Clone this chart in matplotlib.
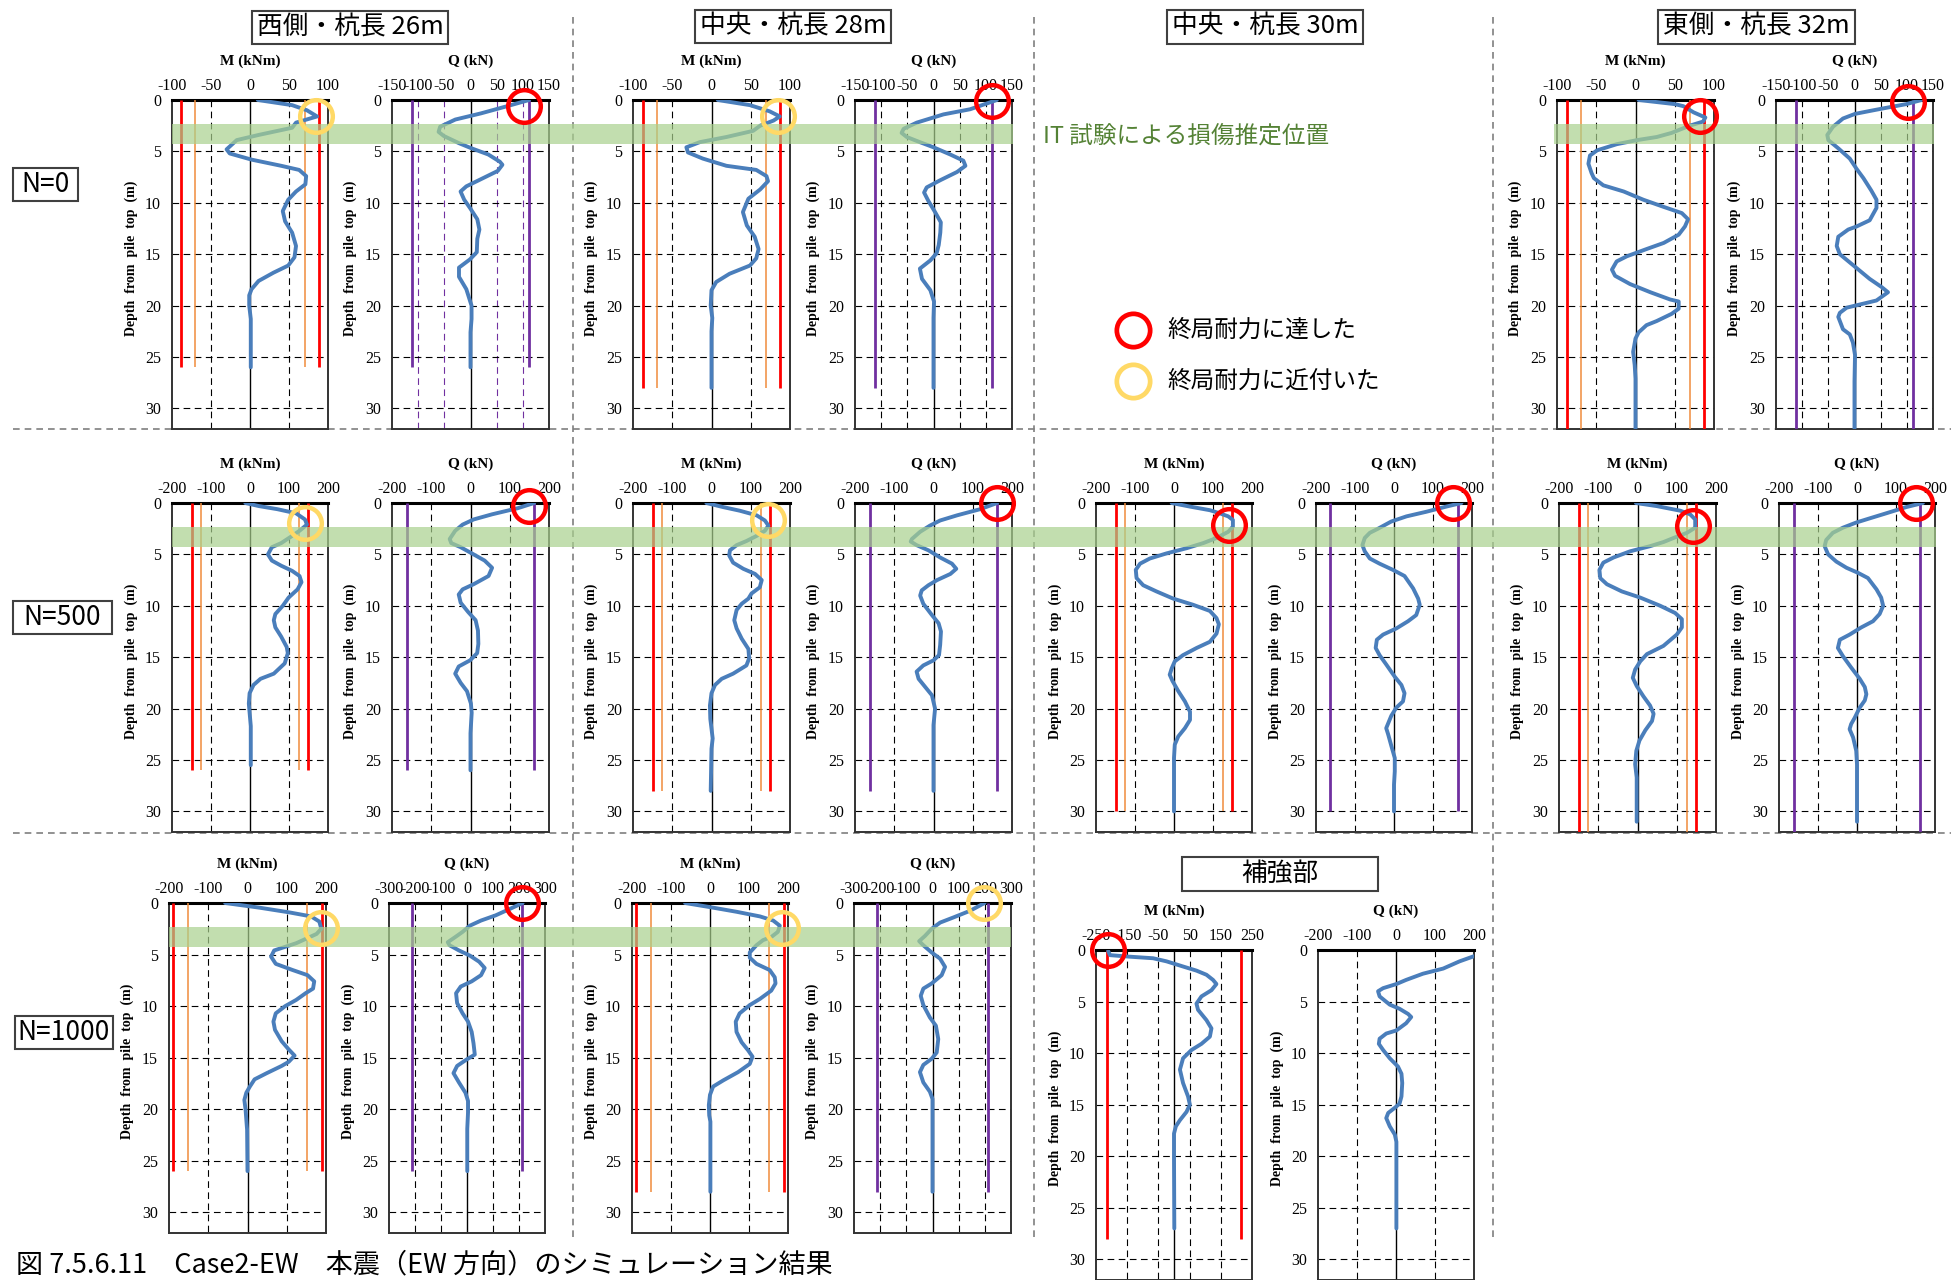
import matplotlib
matplotlib.use('Agg')
import matplotlib.pyplot as plt
from matplotlib.patches import Rectangle
from matplotlib.lines import Line2D
from matplotlib.transforms import blended_transform_factory

plt.rcParams['font.family'] = ['Liberation Serif', 'DejaVu Serif']
JP = ['Noto Sans CJK JP', 'DejaVu Sans']

# ---- data: depth (m) and value ----
# N=0
W0_M_D = [0, 0.5, 1.0, 1.6, 2.2, 2.7, 3.4, 3.9, 4.8, 5.2, 5.8, 6.4, 6.8, 7.4, 8.2, 8.9, 9.7, 10.8, 11.8, 12.9, 14.2, 15.3, 16.1, 16.8, 17.6, 18.4, 19.0, 20.0, 21.3, 22.6, 26.0]
W0_M_V = [10, 54, 73, 86, 59, 54, 11, -17, -30, -26, 2, 40, 63, 72, 71, 59, 49, 42, 45, 54, 59, 57, 49, 30, 11, 2, -1, -1, 1, 1, 1]
W0_Q_D = [0, 0.6, 1.3, 1.9, 2.6, 3.1, 3.5, 4.2, 4.7, 5.3, 6.0, 6.3, 6.9, 7.7, 8.4, 8.9, 9.7, 10.5, 11.6, 12.6, 13.5, 14.8, 15.5, 16.3, 17.2, 18.4, 20.0, 21.3, 22.6, 26.0]
W0_Q_V = [112, 70, 20, -29, -58, -61, -51, -22, 2, 34, 56, 61, 52, 20, -8, -19, -12, -1, 13, 17, 13, 12, -1, -22, -22, -8, 2, 2, 0, 0]

C0_M_D = [0, 0.5, 1.1, 1.6, 2.0, 2.5, 3.0, 3.6, 4.1, 4.6, 5.1, 5.7, 6.4, 6.8, 7.4, 7.9, 8.7, 9.6, 10.9, 12.2, 13.3, 14.5, 15.4, 16.1, 16.9, 17.7, 18.5, 20.0, 21.2, 22.5, 28.0]
C0_M_V = [8, 49, 74, 87, 79, 62, 53, 19, -15, -32, -30, -11, 19, 57, 70, 72, 62, 47, 40, 45, 55, 60, 57, 49, 23, 6, 0, -1, 1, 0, 0]
C0_Q_D = [0, 0.9, 1.4, 2.2, 2.8, 3.2, 3.6, 4.1, 4.6, 5.3, 5.9, 6.4, 7.0, 7.8, 8.5, 9.0, 9.8, 10.9, 11.9, 12.9, 14.1, 14.9, 15.6, 16.4, 17.4, 18.5, 19.6, 21.2, 28.0]
C0_Q_V = [121, 70, 19, -32, -57, -61, -51, -26, 0, 32, 57, 61, 45, 13, -13, -18, -10, 3, 14, 13, 10, 6, -6, -26, -22, -6, 1, 0, 0]

E0_M_D = [0, 0.4, 0.6, 1.2, 1.7, 2.1, 2.5, 3.2, 3.6, 3.9, 4.3, 4.9, 5.4, 6.2, 7.1, 7.6, 8.3, 8.9, 9.7, 10.4, 11.0, 11.6, 12.3, 13.1, 13.9, 14.5, 15.2, 15.7, 16.5, 17.1, 17.9, 18.7, 19.4, 19.6, 20.3, 20.8, 21.5, 21.9, 22.6, 23.2, 24.5, 25.8, 27.1, 32.0]
E0_M_V = [4, 50, 61, 74, 89, 86, 69, 46, 27, 2, -24, -49, -58, -60, -56, -53, -41, -15, 10, 36, 59, 67, 63, 55, 36, 14, -11, -24, -30, -26, -7, 19, 44, 55, 55, 46, 27, 14, 4, 0, -3, -1, 0, 0]
E0_Q_D = [0, 0.4, 0.7, 1.0, 1.35, 1.8, 2.6, 3.4, 3.9, 4.7, 5.7, 6.7, 7.6, 8.8, 9.7, 10.5, 11.7, 12.3, 12.6, 13.3, 14.2, 15.0, 15.8, 16.6, 17.4, 18.2, 18.7, 19.5, 20.2, 20.7, 21.1, 22.3, 22.8, 23.6, 24.8, 27.4, 32.0]
E0_Q_V = [128, 99, 67, 36, 1, -22, -41, -52, -50, -31, -9, 4, 17, 32, 42, 42, 29, 4, -12, -31, -34, -28, -9, 10, 29, 52, 64, 42, -15, -28, -31, -22, -9, -3, 1, 0, 0]

# N=500
W5_M_D = [0, 0.3, 0.6, 1.0, 1.6, 2.1, 2.7, 3.2, 3.9, 4.3, 5.0, 5.6, 6.1, 6.6, 7.1, 7.7, 8.4, 9.2, 10.0, 10.8, 11.4, 12.1, 13.0, 14.0, 14.6, 15.6, 16.6, 17.1, 17.7, 18.5, 19.5, 20.4, 21.7, 25.5]
W5_M_V = [-12, 23, 70, 118, 141, 146, 127, 108, 80, 56, 46, 56, 80, 108, 127, 132, 122, 99, 84, 65, 61, 65, 80, 94, 97, 89, 61, 27, 9, -1, -3, -1, 2, 2]
W5_Q_D = [0, 0.5, 1.1, 1.6, 2.1, 2.7, 3.5, 3.9, 4.3, 5.0, 5.6, 6.3, 7.1, 7.9, 8.4, 8.9, 9.7, 10.6, 11.4, 12.4, 13.7, 14.6, 15.3, 15.9, 16.6, 17.5, 18.3, 19.5, 20.4, 22.4, 26.0]
W5_Q_V = [162, 121, 55, 8, -20, -39, -53, -49, -25, 8, 36, 55, 46, 8, -20, -30, -25, -6, 13, 19, 20, 17, -1, -30, -39, -25, -9, 1, 3, 0, 0]

C5_M_D = [0, 0.4, 0.75, 1.2, 1.7, 2.2, 2.7, 3.2, 3.7, 4.1, 4.6, 5.1, 5.8, 6.4, 6.9, 7.5, 8.2, 8.8, 9.3, 9.8, 10.4, 11.4, 12.2, 13.2, 14.2, 15.1, 15.8, 16.6, 17.1, 17.7, 18.5, 19.7, 21.0, 22.9, 23.9, 28.0]
C5_M_V = [-13, 30, 72, 115, 136, 145, 136, 115, 89, 64, 47, 45, 55, 81, 111, 128, 123, 102, 94, 77, 64, 58, 64, 77, 94, 96, 89, 55, 26, 9, 0, -4, -3, 3, 0, -2]
C5_Q_D = [0, 0.6, 1.2, 1.7, 2.2, 2.8, 3.5, 3.75, 4.1, 4.6, 5.3, 5.9, 6.4, 6.9, 7.5, 8.0, 8.5, 9.0, 9.8, 10.9, 11.7, 12.5, 13.8, 14.8, 15.3, 15.8, 16.4, 17.1, 17.9, 18.7, 20.0, 21.6, 28.0]
C5_Q_V = [162, 119, 60, 17, -9, -34, -55, -58, -43, -13, 17, 47, 58, 43, 9, -13, -30, -34, -26, -4, 13, 19, 17, 14, 0, -26, -43, -38, -21, -4, 4, 0, 0]

M5_M_D = [0, 0.35, 0.7, 1.0, 1.3, 1.65, 2.3, 2.8, 3.4, 3.9, 4.4, 4.9, 5.4, 5.9, 6.5, 7.3, 8.0, 8.6, 9.3, 9.9, 10.5, 11.2, 11.8, 12.7, 13.5, 14.1, 14.8, 15.4, 16.1, 16.7, 17.3, 18.3, 19.3, 20.3, 21.1, 21.9, 22.7, 23.5, 24.8, 30.0]
M5_M_V = [-6, 41, 92, 117, 139, 151, 151, 139, 109, 75, 32, -19, -62, -87, -98, -96, -79, -45, -2, 49, 92, 109, 115, 109, 92, 58, 23, 2, -6, -11, -4, 11, 28, 41, 41, 28, 11, 2, 0, 0]
M5_Q_D = [0, 0.35, 0.85, 1.3, 1.8, 2.5, 2.9, 3.4, 4.1, 4.7, 5.4, 5.9, 6.5, 7.1, 8.3, 9.3, 9.9, 10.9, 11.5, 12.2, 12.8, 13.3, 14.1, 14.8, 15.7, 16.9, 17.7, 18.5, 19.3, 19.9, 20.7, 21.9, 22.5, 23.6, 24.8, 26.1, 27.4, 30.0]
M5_Q_V = [173, 134, 83, 32, -7, -41, -62, -75, -81, -75, -62, -37, -3, 27, 49, 62, 66, 57, 36, 6, -28, -44, -47, -37, -20, 2, 19, 27, 23, 6, -7, -20, -15, -7, 2, 2, 0, 0]

E5_M_D = [0, 0.3, 0.75, 1.1, 1.6, 2.4, 2.9, 3.4, 3.8, 4.2, 4.7, 5.3, 5.8, 6.5, 7.3, 7.9, 8.6, 9.2, 10.0, 10.7, 11.3, 12.1, 12.8, 13.9, 14.7, 15.4, 16.2, 17.0, 17.8, 18.8, 19.7, 20.5, 21.2, 22.1, 23.1, 24.1, 25.4, 26.7, 31.0]
E5_M_V = [-4, 49, 109, 134, 147, 147, 126, 92, 66, 32, -19, -61, -87, -97, -95, -78, -40, 7, 58, 96, 113, 113, 100, 66, 24, 7, -6, -12, -2, 15, 32, 41, 37, 20, 5, -3, -6, -2, -2]
E5_Q_D = [0, 0.4, 1.0, 1.5, 1.9, 2.4, 2.9, 3.6, 4.2, 5.0, 5.7, 6.3, 6.8, 7.3, 8.4, 9.2, 10.0, 10.8, 11.5, 12.1, 12.8, 13.3, 14.1, 14.9, 16.0, 17.1, 17.9, 18.6, 19.2, 19.9, 20.9, 21.5, 22.0, 22.8, 24.1, 25.4, 31.0]
E5_Q_V = [169, 126, 75, 32, -2, -36, -62, -79, -83, -74, -53, -27, 3, 28, 50, 62, 67, 58, 41, 11, -19, -44, -49, -36, -15, 7, 20, 24, 20, 7, -6, -15, -19, -10, -2, 0, 0]

# N=1000
W10_M_D = [0, 0.45, 0.9, 1.3, 1.8, 2.5, 3.0, 3.4, 3.9, 4.25, 4.6, 5.2, 5.9, 6.5, 7.0, 7.6, 8.3, 8.75, 9.4, 10.0, 10.7, 11.5, 12.3, 13.4, 14.2, 14.8, 15.4, 15.8, 16.5, 17.1, 17.8, 18.4, 19.1, 20.0, 22.0, 26.0]
W10_M_V = [-57, 30, 105, 162, 183, 188, 176, 153, 124, 96, 68, 60, 72, 115, 153, 170, 167, 148, 124, 96, 72, 66, 70, 87, 105, 120, 105, 87, 49, 18, 6, -3, -8, -5, -1, 0]
W10_Q_D = [0, 0.55, 1.2, 1.7, 2.2, 2.8, 3.3, 3.8, 4.1, 4.6, 5.1, 5.7, 6.3, 7.0, 7.6, 8.1, 8.75, 9.7, 10.7, 11.5, 12.5, 13.6, 14.7, 15.2, 15.8, 16.5, 17.4, 18.4, 19.2, 20.3, 21.9, 26.0]
W10_Q_V = [214, 167, 110, 54, 11, -17, -45, -74, -67, -31, 11, 47, 68, 54, 18, -24, -42, -38, -17, 4, 18, 25, 30, -3, -38, -52, -31, -6, 4, 4, 1, 1]

C10_M_D = [0, 0.4, 0.85, 1.3, 1.7, 2.2, 2.8, 3.3, 3.6, 4.1, 4.8, 5.3, 5.9, 6.5, 7.2, 7.8, 8.5, 9.3, 9.9, 10.7, 11.5, 12.5, 13.5, 14.3, 14.9, 15.6, 16.4, 17.2, 17.8, 18.6, 19.6, 20.6, 21.2, 28.0]
C10_M_V = [-64, 0, 68, 128, 162, 179, 174, 157, 136, 119, 102, 102, 119, 153, 166, 168, 157, 128, 102, 76, 66, 68, 81, 98, 109, 102, 72, 34, 8, 0, -3, -2, 1, 1]
C10_Q_D = [0, 0.75, 1.4, 1.9, 2.5, 3.2, 3.7, 4.1, 4.8, 5.4, 6.2, 7.0, 7.8, 8.3, 9.0, 9.9, 11.1, 11.9, 13.2, 14.5, 15.1, 15.7, 16.4, 17.4, 18.3, 19.0, 20.3, 28.0]
C10_Q_V = [199, 144, 80, 29, -3, -29, -51, -35, -3, 29, 48, 35, -3, -35, -45, -35, -10, 13, 22, 16, -3, -35, -48, -35, -10, 0, 0, 0]

# 補強部
R_M_D = [0.1, 0.5, 0.65, 0.8, 1.1, 1.6, 2.0, 2.4, 2.9, 3.3, 3.9, 4.5, 5.2, 5.8, 6.8, 7.6, 8.4, 9.1, 9.7, 10.5, 11.6, 12.9, 14.2, 15.0, 15.7, 16.5, 17.1, 17.8, 20.0, 27.0]
R_M_V = [-211, -205, -141, -67, -24, 29, 72, 104, 125, 136, 120, 88, 72, 77, 104, 120, 115, 88, 56, 29, 19, 29, 45, 51, 40, 19, 6, 0, 0, 1]
R_Q_D = [0.6, 1.1, 1.8, 2.3, 2.9, 3.3, 3.7, 4.0, 4.5, 5.3, 5.7, 6.2, 6.5, 7.1, 7.8, 8.1, 8.6, 9.1, 9.7, 10.5, 11.3, 12.0, 12.9, 14.2, 14.9, 15.3, 15.8, 16.3, 17.1, 17.9, 18.6, 20.0, 27.0]
R_Q_V = [200, 163, 121, 69, 26, 1, -33, -46, -42, -16, 9, 31, 39, 26, 1, -25, -42, -44, -33, -16, 5, 14, 16, 14, 9, -3, -20, -25, -16, -3, 1, 1, 1]

# capacity lines (M ultimate, M yield, Q ultimate) and pile lengths
PILE_LEN = {'W': 26, 'C': 28, 'M': 30, 'E': 32, 'R': 28}
M_ULT = {'W0': 88, 'C0': 87, 'E0': 87, 'W5': 149, 'C5': 150, 'M5': 149, 'E5': 148, 'W10': 190, 'C10': 190, 'R': 216}
M_YLD = {'W0': 70, 'C0': 69, 'E0': 69, 'W5': 125, 'C5': 125, 'M5': 125, 'E5': 126, 'W10': 152, 'C10': 152}
Q_ULT = {'W0': 111, 'C0': 112, 'E0': 111, 'W5': 162, 'C5': 162, 'M5': 163, 'E5': 162, 'W10': 213, 'C10': 212}

# circled points: (panel, value, depth, reached?)
MARKS = [('W0M', 84, 1.6, False), ('W0Q', 102, 0.6, True),
         ('C0M', 85, 1.55, False), ('C0Q', 112, 0.1, True),
         ('E0M', 82, 1.6, True), ('E0Q', 102, 0.2, True),
         ('W5M', 141, 1.9, False), ('W5Q', 148, 0.3, True),
         ('C5M', 143, 1.7, False), ('C5Q', 162, 0.0, True),
         ('M5M', 141, 2.1, True), ('M5Q', 151, 0.0, True),
         ('E5M', 141, 2.2, True), ('E5Q', 150, 0.0, True),
         ('W10M', 187, 2.4, False), ('W10Q', 212, 0.0, True),
         ('C10M', 185, 2.45, False), ('C10Q', 195, 0.0, False),
         ('RM', -213, 0.0, True)]

BLUE = '#4A7EBB'
RED = '#FF0000'
ORANGE = '#F08C3C'
PURPLE = '#7030A0'
YELLOW = '#FFD966'
GREEN_BAND = '#A9D18E'

W, H = 1951, 1280
fig = plt.figure(figsize=(W / 100, H / 100), dpi=100)


def fx(x):
    return x / W


def fy(y):
    return 1 - y / H


def add_ax(x0, x1, y0, y1):
    return fig.add_axes([fx(x0), fy(y1), (x1 - x0) / W, (y1 - y0) / H])


def panel(ax, lim, ticks, depth, vals, plen, label, ult=None, yld=None, qult=None, gridcolor='k', width=156):
    ax.set_xlim(-lim, lim)
    ax.set_ylim(32, 0)
    ax.xaxis.tick_top()
    ax.set_xticks(ticks)
    ax.set_xticklabels([str(t) for t in ticks])
    ax.set_yticks([0, 5, 10, 15, 20, 25, 30])
    ax.tick_params(axis='x', length=0, labelsize=11.5, pad=4)
    ax.tick_params(axis='y', length=0, labelsize=11.5, pad=8)
    for t in ticks:
        if t != 0 and abs(t) != lim:
            ax.plot([t, t], [0, 32], color=gridcolor, lw=0.8, ls=(0, (6, 4)), zorder=1)
    for d in range(5, 31, 5):
        ax.axhline(d, color='k', lw=0.8, ls=(0, (6, 4)), zorder=1)
    ax.axvline(0, color='k', lw=1.0, zorder=1)
    for s in ['left', 'right', 'bottom']:
        ax.spines[s].set_color('#333333')
        ax.spines[s].set_linewidth(1.4)
    ax.spines['top'].set_linewidth(2.2)
    if ult is not None:
        for sgn in (-1, 1):
            ax.plot([sgn * ult] * 2, [0, plen], color=RED, lw=2.0, solid_capstyle='butt', zorder=3)
    if yld is not None:
        for sgn in (-1, 1):
            ax.plot([sgn * yld] * 2, [0, plen], color=ORANGE, lw=1.1, solid_capstyle='butt', zorder=3)
    if qult is not None:
        for sgn in (-1, 1):
            ax.plot([sgn * qult] * 2, [0, plen], color=PURPLE, lw=2.0, solid_capstyle='butt', zorder=3)
    ax.plot(vals, depth, color=BLUE, lw=2.8, solid_joinstyle='round', solid_capstyle='round', zorder=4)
    ax.text(0.5, 1 + 39 / 330, label, transform=ax.transAxes, ha='center', va='center',
            fontsize=11, fontweight='bold')
    ax.text(-41 / width, 0.52, 'Depth  from  pile  top  (m)', transform=ax.transAxes, rotation=90,
            ha='center', va='center', fontsize=10, fontweight='bold')


T100 = [-100, -50, 0, 50, 100]
T150 = [-150, -100, -50, 0, 50, 100, 150]
T200 = [-200, -100, 0, 100, 200]
T300 = [-300, -200, -100, 0, 100, 200, 300]
T250 = [-250, -150, -50, 50, 150, 250]

axes = {}
# row 1 (N=0)
axes['W0M'] = add_ax(172, 328, 100, 429)
axes['W0Q'] = add_ax(392, 549, 100, 429)
axes['C0M'] = add_ax(633, 790, 100, 429)
axes['C0Q'] = add_ax(855, 1012, 100, 429)
axes['E0M'] = add_ax(1557, 1714, 100, 429)
axes['E0Q'] = add_ax(1776, 1933, 100, 429)
# row 2 (N=500)
axes['W5M'] = add_ax(172, 328, 503, 832)
axes['W5Q'] = add_ax(392, 549, 503, 832)
axes['C5M'] = add_ax(633, 790, 503, 832)
axes['C5Q'] = add_ax(855, 1012, 503, 832)
axes['M5M'] = add_ax(1096, 1252, 503, 832)
axes['M5Q'] = add_ax(1316, 1472, 503, 832)
axes['E5M'] = add_ax(1559, 1716, 503, 832)
axes['E5Q'] = add_ax(1779, 1935, 503, 832)
# row 3 (N=1000) and 補強部
axes['W10M'] = add_ax(169, 326, 903, 1233)
axes['W10Q'] = add_ax(389, 545, 903, 1233)
axes['C10M'] = add_ax(632, 788, 903, 1233)
axes['C10Q'] = add_ax(854, 1011, 903, 1233)
axes['RM'] = add_ax(1096, 1252, 950, 1280)
axes['RQ'] = add_ax(1318, 1474, 950, 1280)

MK = 'M (kNm)'
QK = 'Q (kN)'
panel(axes['W0M'], 100, T100, W0_M_D, W0_M_V, PILE_LEN['W'], MK, M_ULT['W0'], M_YLD['W0'])
panel(axes['W0Q'], 150, T150, W0_Q_D, W0_Q_V, PILE_LEN['W'], QK, qult=Q_ULT['W0'], gridcolor=PURPLE)
panel(axes['C0M'], 100, T100, C0_M_D, C0_M_V, PILE_LEN['C'], MK, M_ULT['C0'], M_YLD['C0'])
panel(axes['C0Q'], 150, T150, C0_Q_D, C0_Q_V, PILE_LEN['C'], QK, qult=Q_ULT['C0'])
panel(axes['E0M'], 100, T100, E0_M_D, E0_M_V, PILE_LEN['E'], MK, M_ULT['E0'], M_YLD['E0'])
panel(axes['E0Q'], 150, T150, E0_Q_D, E0_Q_V, PILE_LEN['E'], QK, qult=Q_ULT['E0'])

panel(axes['W5M'], 200, T200, W5_M_D, W5_M_V, PILE_LEN['W'], MK, M_ULT['W5'], M_YLD['W5'])
panel(axes['W5Q'], 200, T200, W5_Q_D, W5_Q_V, PILE_LEN['W'], QK, qult=Q_ULT['W5'])
panel(axes['C5M'], 200, T200, C5_M_D, C5_M_V, PILE_LEN['C'], MK, M_ULT['C5'], M_YLD['C5'])
panel(axes['C5Q'], 200, T200, C5_Q_D, C5_Q_V, PILE_LEN['C'], QK, qult=Q_ULT['C5'])
panel(axes['M5M'], 200, T200, M5_M_D, M5_M_V, PILE_LEN['M'], MK, M_ULT['M5'], M_YLD['M5'])
panel(axes['M5Q'], 200, T200, M5_Q_D, M5_Q_V, PILE_LEN['M'], QK, qult=Q_ULT['M5'])
panel(axes['E5M'], 200, T200, E5_M_D, E5_M_V, PILE_LEN['E'], MK, M_ULT['E5'], M_YLD['E5'])
panel(axes['E5Q'], 200, T200, E5_Q_D, E5_Q_V, PILE_LEN['E'], QK, qult=Q_ULT['E5'])

panel(axes['W10M'], 200, T200, W10_M_D, W10_M_V, PILE_LEN['W'], MK, M_ULT['W10'], M_YLD['W10'])
panel(axes['W10Q'], 300, T300, W10_Q_D, W10_Q_V, PILE_LEN['W'], QK, qult=Q_ULT['W10'])
panel(axes['C10M'], 200, T200, C10_M_D, C10_M_V, PILE_LEN['C'], MK, M_ULT['C10'], M_YLD['C10'])
panel(axes['C10Q'], 300, T300, C10_Q_D, C10_Q_V, PILE_LEN['C'], QK, qult=Q_ULT['C10'])
panel(axes['RM'], 250, T250, R_M_D, R_M_V, PILE_LEN['R'], MK, M_ULT['R'])
panel(axes['RQ'], 200, T200, R_Q_D, R_Q_V, PILE_LEN['R'], QK)

# green band: damage position estimated by IT test (drawn over the panels)
BAND_TOP, BAND_BOT = 2.35, 4.25
for ref, x0, x1 in [('W0M', 172, 1013), ('E0M', 1554, 1934),
                    ('W5M', 172, 1936), ('W10M', 169, 1011)]:
    tr = blended_transform_factory(fig.transFigure, axes[ref].transData)
    fig.add_artist(Rectangle((fx(x0), BAND_TOP), (x1 - x0) / W, BAND_BOT - BAND_TOP, transform=tr,
                             facecolor=GREEN_BAND, alpha=0.7, edgecolor='none', zorder=5))

# circles
for key, v, d, reached in MARKS:
    fig.add_artist(Line2D([v], [d], transform=axes[key].transData, marker='o', ms=23.5, mew=3.2,
                          mfc='none', mec=RED if reached else YELLOW, ls='none', zorder=6))

# dashed separators
SEP = dict(color='#7F7F7F', lw=1.2, ls=(0, (4, 3)), zorder=0)
for x, y0, y1 in [(572.5, 17, 1240), (1034, 17, 1240), (1493, 17, 1238)]:
    fig.add_artist(Line2D([fx(x)] * 2, [fy(y0), fy(y1)], **SEP))
for y in [429, 833]:
    fig.add_artist(Line2D([fx(13), fx(1951)], [fy(y)] * 2, **SEP))


def boxed(text, x0, x1, y0, y1, size):
    fig.add_artist(Rectangle((fx(x0), fy(y1)), (x1 - x0) / W, (y1 - y0) / H, transform=fig.transFigure,
                             facecolor='white', edgecolor='#404040', lw=1.5, zorder=7))
    fig.text(fx((x0 + x1) / 2), fy((y0 + y1) / 2), text, ha='center', va='center',
             fontsize=size, family=JP, zorder=8)


boxed('西側・杭長 26m', 252, 448, 11, 44, 18.5)
boxed('中央・杭長 28m', 695, 891, 10, 43, 18.5)
boxed('中央・杭長 30m', 1167, 1363, 10, 44, 18.5)
boxed('東側・杭長 32m', 1658, 1855, 10, 44, 18.5)
boxed('補強部', 1182, 1378, 857, 891, 18.5)
boxed('N=0', 13, 78, 168, 201, 19)
boxed('N=500', 13, 112, 601, 634, 19)
boxed('N=1000', 15, 113, 1016, 1049, 19)

fig.text(fx(1043), fy(136), 'IT 試験による損傷推定位置', ha='left', va='center', fontsize=17,
         color='#548235', family=JP)

# legend
for y, col, txt in [(330, RED, '終局耐力に達した'), (381, YELLOW, '終局耐力に近付いた')]:
    fig.add_artist(Line2D([fx(1133)], [fy(y)], marker='o', ms=24, mew=3.4, mfc='none', mec=col,
                          ls='none', transform=fig.transFigure))
    fig.text(fx(1167), fy(y), txt, ha='left', va='center', fontsize=17, family=JP)

fig.text(fx(16), fy(1265), '図 7.5.6.11\u3000Case2-EW\u3000本震（EW 方向）のシミュレーション結果',
         ha='left', va='center', fontsize=19.5, family=JP)

fig.savefig('out.png', dpi=100, facecolor='white')
